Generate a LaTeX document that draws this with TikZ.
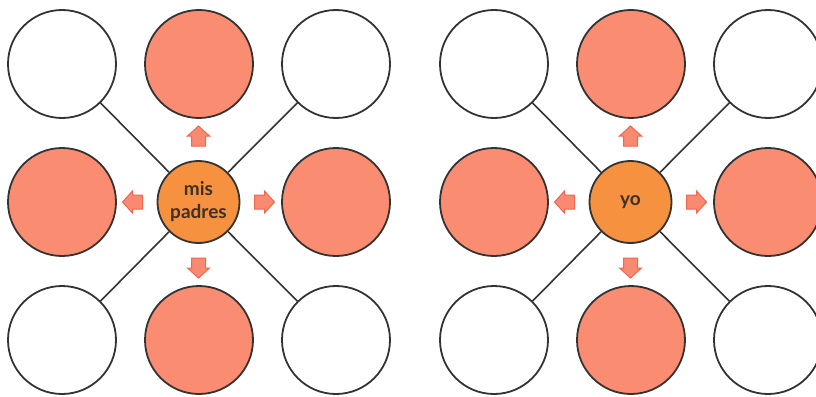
\documentclass[tikz,border=0pt]{standalone}
\usepackage{fontspec}
\setmainfont{Lato}
\definecolor{salmon}{HTML}{FA8C72}
\definecolor{orangec}{HTML}{F6913F}
\definecolor{arrowfill}{HTML}{F98A72}
\definecolor{arrowline}{HTML}{F2654E}
\definecolor{edge}{HTML}{333333}
\definecolor{txt}{HTML}{3D3027}
\begin{document}
\begin{tikzpicture}[x=1pt,y=-1pt,
  outer/.style={circle,draw=edge,line width=1.8pt,minimum size=108pt,inner sep=0pt},
  hot/.style={outer,fill=salmon},
  cold/.style={outer,fill=white},
  hub/.style={circle,draw=edge,line width=1.8pt,fill=orangec,minimum size=82pt,inner sep=0pt,
    font=\fontsize{19}{23}\selectfont\bfseries,text=txt,align=center},
  link/.style={draw=edge,line width=1.6pt},
  push/.style={fill=arrowfill,draw=arrowline,line width=1pt,line join=miter},
  pushpic/.pic={\draw[push] (0,-76) -- (11,-66) -- (7,-66) -- (7,-56) -- (-7,-56) -- (-7,-66) -- (-11,-66) -- cycle;}]
\useasboundingbox (0,0) rectangle (816,396);
\fill[white] (0,0) rectangle (816,396);
\foreach \p/\dx/\lab in {L/0/{mis\\padres}, R/432/{yo}}{
  \begin{scope}[xshift=\dx pt]
    \node[cold] (\p tl) at (62,64) {};
    \node[hot]  (\p tm) at (199,64) {};
    \node[cold] (\p tr) at (336,64) {};
    \node[hot]  (\p ml) at (62,202) {};
    \node[hot]  (\p mr) at (336,202) {};
    \node[cold] (\p bl) at (62,340) {};
    \node[hot]  (\p bm) at (199,340) {};
    \node[cold] (\p br) at (336,340) {};
    \node[hub]  (\p c) at (198.5,202) {\lab};
    \draw[link] (\p tl) -- (\p c);
    \draw[link] (\p tr) -- (\p c);
    \draw[link] (\p bl) -- (\p c);
    \draw[link] (\p br) -- (\p c);
    \foreach \a in {0,90,180,270}{
      \pic[rotate=\a] at (\p c) {pushpic};
    }
  \end{scope}
}
\end{tikzpicture}
\end{document}
